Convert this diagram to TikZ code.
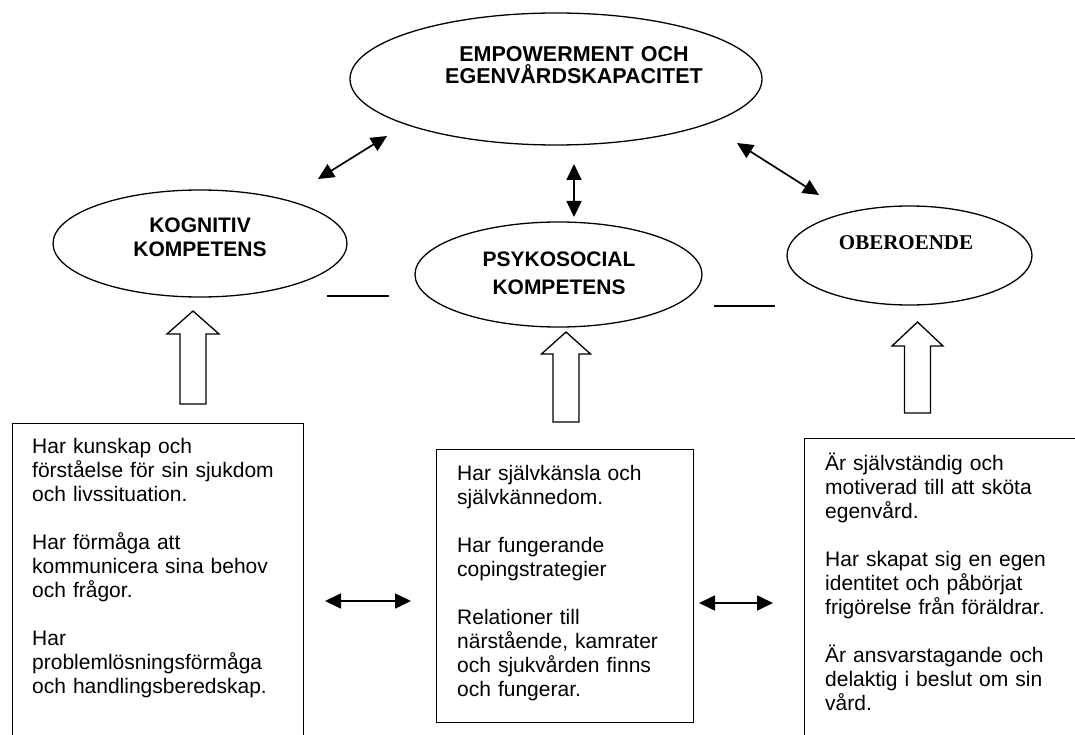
\documentclass[tikz,border=0pt]{standalone}
\usepackage{fontspec}
\setmainfont{Liberation Sans}
\newfontfamily\serifface{Liberation Serif}
\usetikzlibrary{arrows.meta,shapes.geometric}
\newcommand\blockup[6]{%
  \draw[blk] (#1-#6,#4) -- (#1-#6,#3) -- (#1-#5,#3) -- (#1,#2) -- (#1+#5,#3) -- (#1+#6,#3) -- (#1+#6,#4) -- cycle;}
\begin{document}
\begin{tikzpicture}[x=1pt,y=-1pt,
  ell/.style={draw, ellipse, line width=1.3pt, inner sep=0pt},
  boxed/.style={draw, rectangle, line width=1.2pt, inner sep=0pt, anchor=north west},
  ttl/.style={font=\bfseries\fontsize{21}{24}\selectfont, align=center, inner sep=0pt, anchor=base},
  body/.style={font=\fontsize{21}{24}\selectfont, align=left, inner sep=0pt, anchor=base west},
  dbl/.style={{Triangle[length=16pt,width=15pt]}-{Triangle[length=16pt,width=15pt]}, line width=1.7pt},
  dashline/.style={line width=1.3pt},
  blk/.style={draw, line width=1.3pt, fill=white, line join=miter}]
\useasboundingbox (0,0) rectangle (1075,735);
\clip (0,0) rectangle (1075,735);

% ellipses
\node[ell, minimum width=412pt, minimum height=132pt] (top) at (556,79) {};
\node[ell, minimum width=294pt, minimum height=107pt] (kog) at (200,243.5) {};
\node[ell, minimum width=287pt, minimum height=105pt] (psy) at (558.5,274.5) {};
\node[ell, minimum width=245pt, minimum height=99pt] (obe) at (909.5,255.5) {};

\node[ttl, text width=320pt, font=\bfseries\fontsize{21.5}{21.6}\selectfont] (topT) at (574,62) {EMPOWERMENT OCH\\EGENV\AA RDSKAPACITET};
\node[ttl, text width=200pt] (kogT) at (200,233) {KOGNITIV\\KOMPETENS};
\node[ttl, text width=200pt, font=\bfseries\fontsize{21}{28}\selectfont] (psyT) at (559,266) {PSYKOSOCIAL\\KOMPETENS};
\node[ttl, text width=200pt, font=\serifface\bfseries\fontsize{21}{24}\selectfont] (obeT) at (906,249) {OBEROENDE};

% boxes
\node[boxed, minimum width=291pt, minimum height=340pt] (kbox) at (12,423) {};
\node[boxed, minimum width=257pt, minimum height=273pt] (pbox) at (436,449) {};
\node[boxed, minimum width=300pt, minimum height=330pt] (obox) at (804,438) {};

\node[body, text width=268pt] (kboxT) at (32,453) {Har kunskap och\\f\"orst\aa else f\"or sin sjukdom\\och livssituation.\\[24pt]Har f\"orm\aa ga att\\kommunicera sina behov\\och fr\aa gor.\\[24pt]Har\\probleml\"osningsf\"orm\aa ga\\och handlingsberedskap.};
\node[body, text width=232pt] (pboxT) at (457,480) {Har sj\"alvk\"ansla och\\sj\"alvk\"annedom.\\[24pt]Har fungerande\\copingstrategier\\[24pt]Relationer till\\n\"arst\aa ende, kamrater\\och sjukv\aa rden finns\\och fungerar.};
\node[body, text width=245pt] (oboxT) at (825,470) {\"Ar sj\"alvst\"andig och\\motiverad till att sk\"ota\\egenv\aa rd.\\[24pt]Har skapat sig en egen\\identitet och p\aa b\"orjat\\frig\"orelse fr\aa n f\"or\"aldrar.\\[24pt]\"Ar ansvarstagande och\\delaktig i beslut om sin\\v\aa rd.};

% double arrows
\coordinate (d1a) at (318,179); \coordinate (d1b) at (387,136);
\coordinate (d2a) at (574,164); \coordinate (d2b) at (574,217);
\coordinate (d3a) at (737,143); \coordinate (d3b) at (819,195);
\coordinate (h1a) at (325,601); \coordinate (h1b) at (411,601);
\coordinate (h2a) at (699,603); \coordinate (h2b) at (773,603);
\draw[dbl] (d1a) -- (d1b);
\draw[dbl] (d2a) -- (d2b);
\draw[dbl] (d3a) -- (d3b);
\draw[dbl] (h1a) -- (h1b);
\draw[dbl] (h2a) -- (h2b);

% short lines
\coordinate (s1a) at (327,296); \coordinate (s1b) at (389,296);
\coordinate (s2a) at (714,306); \coordinate (s2b) at (775,306);
\draw[dashline] (s1a) -- (s1b);
\draw[dashline] (s2a) -- (s2b);

% block arrows
\blockup{193}{311}{334}{404}{26}{13}
\blockup{566}{332}{354}{422}{24.5}{13}
\blockup{917.5}{322}{346}{413}{25.5}{13}
\end{tikzpicture}
\end{document}
